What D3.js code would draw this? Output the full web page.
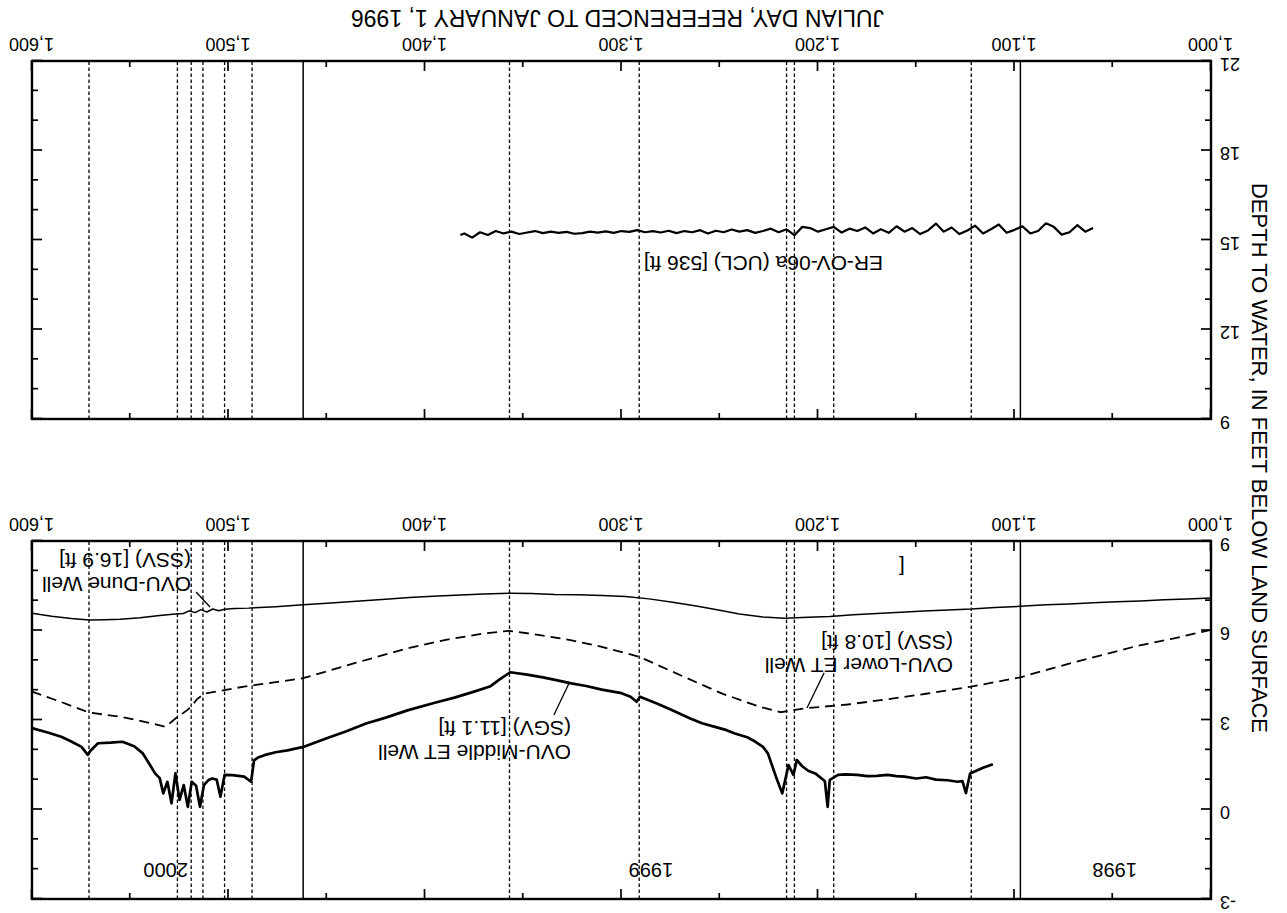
<!DOCTYPE html>
<html>
<head>
<meta charset="utf-8">
<script src="https://cdn.jsdelivr.net/npm/d3@7"></script>
<style>
  html, body { margin: 0; padding: 0; background: #fff; }
  svg { display: block; background: #fff; }
  text { font-family: "Liberation Sans", Arial, Helvetica, sans-serif; fill: #000; }
</style>
</head>
<body>
<svg id="chart" width="1287" height="913"></svg>
<script>
// ---- Julian day axis (referenced to January 1, 1996) ----
const xMajorTicks = [1000, 1100, 1200, 1300, 1400, 1500, 1600];
const xMinorTicks = [1050, 1150, 1250, 1350, 1450, 1550];

// Calendar-year boundaries (solid) and event dates (dashed)
const yearBoundaryDays = [1097, 1462];
const eventDays = [1122, 1192, 1212, 1216, 1291, 1357, 1488, 1502, 1513, 1519, 1526, 1571];
const yearLabels = ["1998", "1999", "2000"];
const yearLabelDays = [1049, 1285, 1532];

// ---- Upper panel: shallow wells, depth in feet ----
const upperMajorTicks = [-3, 0, 3, 6, 9];
const upperMinorTicks = [-2, -1, 1, 2, 4, 5, 7, 8];

// OVU-Dune Well (SSV) [16.9 ft]
const duneDays  = [1000, 1012, 1024, 1036, 1048, 1060, 1072, 1084, 1097, 1110, 1122, 1134, 1146, 1158, 1170, 1182, 1194, 1205, 1217, 1228, 1240, 1250, 1262, 1274, 1286, 1298, 1310, 1322, 1334, 1346, 1357, 1370, 1382, 1396, 1408, 1420, 1435, 1448, 1462, 1476, 1490, 1497, 1502, 1505, 1508, 1511, 1514, 1517, 1520, 1523, 1527, 1535, 1545, 1555, 1563, 1571, 1580, 1590, 1600];
const duneDepth = [7.09, 7.06, 7.03, 6.99, 6.96, 6.93, 6.89, 6.86, 6.81, 6.77, 6.72, 6.69, 6.65, 6.61, 6.57, 6.53, 6.47, 6.44, 6.41, 6.45, 6.55, 6.68, 6.82, 6.95, 7.06, 7.14, 7.17, 7.20, 7.21, 7.24, 7.25, 7.22, 7.19, 7.15, 7.11, 7.05, 6.98, 6.92, 6.86, 6.80, 6.75, 6.74, 6.71, 6.66, 6.72, 6.62, 6.70, 6.60, 6.66, 6.57, 6.55, 6.50, 6.43, 6.38, 6.36, 6.35, 6.40, 6.48, 6.58];

// OVU-Lower ET Well (SSV) [10.8 ft]
const lowerDays  = [1000, 1020, 1039, 1060, 1080, 1097, 1122, 1145, 1165, 1185, 1207, 1219, 1230, 1249, 1270, 1291, 1310, 1326, 1345, 1357, 1370, 1390, 1409, 1435, 1462, 1492, 1512, 1516, 1519, 1521, 1527, 1532, 1540, 1554, 1571, 1585, 1600];
const lowerDepth = [6.02, 5.72, 5.46, 5.10, 4.75, 4.43, 4.12, 3.88, 3.69, 3.52, 3.39, 3.26, 3.45, 3.89, 4.50, 5.12, 5.45, 5.68, 5.88, 5.99, 5.90, 5.68, 5.40, 4.92, 4.40, 4.12, 3.89, 3.70, 3.45, 3.33, 3.05, 2.77, 2.90, 3.10, 3.25, 3.60, 3.95];

// OVU-Middle ET Well (SGV) [11.1 ft]
const middleDays  = [1111, 1116, 1120, 1122.6, 1124.7, 1126.5, 1129, 1134, 1140, 1145, 1150, 1156, 1160, 1164.6, 1170, 1175, 1180, 1186, 1189.8, 1194, 1195.1, 1196.5, 1197.2, 1201.4, 1205, 1208, 1210.8, 1212.5, 1215, 1218.2, 1221.4, 1225.5, 1228, 1231.8, 1236, 1242.3, 1246.5, 1252, 1259, 1265, 1275, 1282, 1290.6, 1292.3, 1295.4, 1300, 1310, 1318, 1325.5, 1335, 1340, 1348, 1356.6, 1362, 1367, 1375, 1385, 1395, 1408.5, 1420, 1430, 1440, 1450, 1461.6, 1466, 1470, 1476, 1481.3, 1485, 1487, 1488.5, 1492, 1498, 1502, 1504.1, 1506, 1508.3, 1510, 1512.5, 1514.5, 1516.5, 1518.7, 1520.7, 1522.8, 1524.9, 1527, 1529, 1531.1, 1533.2, 1535, 1537.4, 1540, 1543.6, 1548, 1554, 1560, 1566.4, 1570.5, 1571.6, 1574.8, 1580, 1585.1, 1592, 1599.6];
const middleDepth = [1.52, 1.40, 1.28, 1.21, 0.55, 0.95, 0.93, 0.98, 1.00, 1.08, 1.04, 1.10, 1.12, 1.16, 1.13, 1.12, 1.16, 1.18, 1.16, 0.99, 0.09, 0.95, 0.99, 1.21, 1.30, 1.45, 1.66, 1.16, 1.49, 0.54, 1.10, 1.88, 2.10, 2.27, 2.42, 2.55, 2.66, 2.76, 2.89, 3.05, 3.35, 3.55, 3.78, 3.61, 3.78, 3.90, 4.02, 4.14, 4.23, 4.36, 4.43, 4.52, 4.60, 4.36, 4.12, 3.95, 3.75, 3.58, 3.33, 3.08, 2.88, 2.62, 2.39, 2.10, 2.04, 1.98, 1.92, 1.83, 1.74, 1.65, 0.93, 1.10, 1.15, 1.16, 0.43, 1.00, 1.04, 1.00, 0.82, 0.09, 0.80, 0.93, 0.09, 0.82, 0.32, 1.21, 0.21, 0.93, 0.54, 1.05, 1.21, 1.50, 1.88, 2.12, 2.27, 2.24, 2.22, 1.95, 1.83, 2.10, 2.28, 2.44, 2.58, 2.72];

// ---- Lower panel: deep well, depth in feet ----
const lowerPanelMajorTicks = [9, 12, 15, 18, 21];
const lowerPanelMinorTicks = [10, 11, 13, 14, 16, 17, 19, 20];

// ER-OV-06a (UCL) [536 ft]
const deepDays  = [1060, 1064, 1068, 1072, 1076, 1080, 1084, 1088, 1092, 1096, 1100, 1104, 1108, 1112, 1116, 1120, 1124, 1128, 1132, 1136, 1140, 1144, 1148, 1152, 1156, 1160, 1164, 1168, 1172, 1176, 1180, 1184, 1188, 1192, 1196, 1200, 1204, 1208, 1212, 1216, 1220, 1224, 1228, 1232, 1236, 1240, 1244, 1248, 1252, 1256, 1260, 1264, 1268, 1272, 1276, 1280, 1284, 1288, 1292, 1296, 1300, 1304, 1308, 1312, 1316, 1320, 1324, 1328, 1332, 1336, 1340, 1344, 1348, 1352, 1356, 1360, 1364, 1368, 1372, 1376, 1380, 1382];
const deepDepth = [15.40, 15.28, 15.50, 15.26, 15.18, 15.44, 15.56, 15.30, 15.22, 15.46, 15.34, 15.24, 15.52, 15.36, 15.22, 15.48, 15.32, 15.20, 15.42, 15.28, 15.55, 15.32, 15.20, 15.40, 15.28, 15.46, 15.24, 15.36, 15.22, 15.42, 15.30, 15.38, 15.25, 15.44, 15.36, 15.28, 15.40, 15.44, 15.16, 15.36, 15.26, 15.38, 15.30, 15.24, 15.33, 15.28, 15.35, 15.26, 15.31, 15.22, 15.33, 15.26, 15.30, 15.23, 15.31, 15.25, 15.30, 15.26, 15.33, 15.27, 15.30, 15.24, 15.29, 15.25, 15.28, 15.23, 15.21, 15.27, 15.24, 15.28, 15.23, 15.30, 15.25, 15.20, 15.28, 15.22, 15.30, 15.17, 15.26, 15.08, 15.22, 15.17];

// ---- Geometry of the figure (drawn in reading orientation, then turned over) ----
const W = 1287, H = 913;
const plotLeft = 76, plotRight = 1255;
const upperTop = 14, upperBottom = 372;
const lowerTop = 494, lowerBottom = 852;

const x = d3.scaleLinear().domain([1000, 1600]).range([plotLeft, plotRight]);
const yUpper = d3.scaleLinear().domain([-3, 9]).range([upperTop, upperBottom]);
const yLower = d3.scaleLinear().domain([9, 21]).range([lowerTop, lowerBottom]);

const svg = d3.select("#chart");
svg.append("rect").attr("width", W).attr("height", H).attr("fill", "#fff");

// The sheet is printed upside down.
const fig = svg.append("g").attr("transform", `rotate(180 ${W / 2} ${H / 2})`);

const FONT = '"Liberation Sans", Arial, Helvetica, sans-serif';
const TICK_FONT = 18;

function styleAxis(sel) {
  sel.attr("font-family", FONT).attr("font-size", TICK_FONT);
  sel.select(".domain").remove();
  sel.selectAll(".tick line").attr("stroke", "#000").attr("stroke-width", 1.7);
  sel.selectAll(".tick text").attr("fill", "#000");
}

function drawPanel(y, majorY, minorY) {
  const [top, bottom] = y.range();
  const g = fig.append("g");

  // event and year lines
  g.append("g").selectAll("line").data(eventDays).join("line")
    .attr("x1", d => x(d)).attr("x2", d => x(d))
    .attr("y1", top).attr("y2", bottom)
    .attr("stroke", "#000").attr("stroke-width", 1.3)
    .attr("stroke-dasharray", "3.5,2.5");
  g.append("g").selectAll("line").data(yearBoundaryDays).join("line")
    .attr("x1", d => x(d)).attr("x2", d => x(d))
    .attr("y1", top).attr("y2", bottom)
    .attr("stroke", "#000").attr("stroke-width", 1.5);

  // bottom edge: labelled major ticks + minor ticks
  g.append("g").attr("transform", `translate(0,${bottom})`)
    .call(d3.axisBottom(x).tickValues(xMajorTicks).tickSize(-10).tickPadding(10).tickFormat(d3.format(",")))
    .call(styleAxis);
  g.append("g").attr("transform", `translate(0,${bottom})`)
    .call(d3.axisBottom(x).tickValues(xMinorTicks).tickSize(-6).tickFormat(""))
    .call(styleAxis);
  // top edge ticks
  g.append("g").attr("transform", `translate(0,${top})`)
    .call(d3.axisTop(x).tickValues(xMajorTicks).tickSize(-10).tickFormat(""))
    .call(styleAxis);
  g.append("g").attr("transform", `translate(0,${top})`)
    .call(d3.axisTop(x).tickValues(xMinorTicks).tickSize(-6).tickFormat(""))
    .call(styleAxis);

  // left edge: labelled depth ticks
  g.append("g").attr("transform", `translate(${plotLeft},0)`)
    .call(d3.axisLeft(y).tickValues(majorY).tickSize(-10).tickPadding(9).tickFormat(d => String(d)))
    .call(styleAxis)
    .call(s => s.selectAll(".tick text").attr("y", -3));
  g.append("g").attr("transform", `translate(${plotLeft},0)`)
    .call(d3.axisLeft(y).tickValues(minorY).tickSize(-6).tickFormat(""))
    .call(styleAxis);
  // right edge ticks
  g.append("g").attr("transform", `translate(${plotRight},0)`)
    .call(d3.axisRight(y).tickValues(majorY).tickSize(-10).tickFormat(""))
    .call(styleAxis);
  g.append("g").attr("transform", `translate(${plotRight},0)`)
    .call(d3.axisRight(y).tickValues(minorY).tickSize(-6).tickFormat(""))
    .call(styleAxis);

  return g;
}

const upper = drawPanel(yUpper, upperMajorTicks, upperMinorTicks);
const lower = drawPanel(yLower, lowerPanelMajorTicks, lowerPanelMinorTicks);

// ---- hydrographs ----
function series(days, depth) { return d3.zip(days, depth); }

const lineUpper = d3.line().x(d => x(d[0])).y(d => yUpper(d[1]));
const lineLower = d3.line().x(d => x(d[0])).y(d => yLower(d[1]));

upper.append("path").datum(series(duneDays, duneDepth))
  .attr("d", lineUpper).attr("fill", "none").attr("stroke", "#000")
  .attr("stroke-width", 1.5).attr("stroke-linejoin", "round");
upper.append("path").datum(series(lowerDays, lowerDepth))
  .attr("d", lineUpper).attr("fill", "none").attr("stroke", "#000")
  .attr("stroke-width", 1.8).attr("stroke-dasharray", "10,6");
upper.append("path").datum(series(middleDays, middleDepth))
  .attr("d", lineUpper).attr("fill", "none").attr("stroke", "#000")
  .attr("stroke-width", 2.7).attr("stroke-linejoin", "round");
lower.append("path").datum(series(deepDays, deepDepth))
  .attr("d", lineLower).attr("fill", "none").attr("stroke", "#000")
  .attr("stroke-width", 2.2).attr("stroke-linejoin", "round");

// ---- well labels with leader lines (positions in day / depth units) ----
const wellLabels = [
  { lines: ["OVU-Middle ET Well", "(SGV) [11.1 ft]"], day: 1325.7, depth: 1.93, from: [1334.4, 3.17], to: [1326.7, 4.23] },
  { lines: ["OVU-Lower ET Well", "(SSV) [10.8 ft]"],  day: 1131.3, depth: 4.84, from: [1196.9, 4.58], to: [1205.6, 3.40] },
  { lines: ["OVU-Dune Well", "(SSV) [16.9 ft]"],      day: 1519.1, depth: 7.56, from: [1516.5, 7.29], to: [1509.4, 6.79] }
];
const lineGapFt = 0.78;

wellLabels.forEach(lb => {
  lb.lines.forEach((t, i) => {
    upper.append("text")
      .attr("x", x(lb.day)).attr("y", yUpper(lb.depth + i * lineGapFt))
      .attr("dy", "0.35em").attr("font-size", 21).attr("font-family", FONT)
      .text(t);
  });
  upper.append("line")
    .attr("x1", x(lb.from[0])).attr("y1", yUpper(lb.from[1]))
    .attr("x2", x(lb.to[0])).attr("y2", yUpper(lb.to[1]))
    .attr("stroke", "#000").attr("stroke-width", 1.3);
});

upper.append("text")
  .attr("x", x(1157.3)).attr("y", yUpper(8.13)).attr("dy", "0.35em")
  .attr("text-anchor", "middle").attr("font-size", 21).attr("font-family", FONT)
  .text("[");

lower.append("text")
  .attr("x", x(1166.9)).attr("y", yLower(14.23)).attr("dy", "0.35em")
  .attr("font-size", 21).attr("font-family", FONT)
  .text("ER-OV-06a (UCL) [536 ft]");

// year names in the upper panel
upper.append("g").selectAll("text").data(yearLabels).join("text")
  .attr("x", (d, i) => x(yearLabelDays[i])).attr("y", yUpper(-2.03)).attr("dy", "0.35em")
  .attr("text-anchor", "middle").attr("font-size", 20).attr("font-family", FONT)
  .text(d => d);

// frames on top of everything
[[upperTop, upperBottom], [lowerTop, lowerBottom]].forEach(([t, b]) => {
  fig.append("rect")
    .attr("x", plotLeft).attr("y", t)
    .attr("width", plotRight - plotLeft).attr("height", b - t)
    .attr("fill", "none").attr("stroke", "#000").attr("stroke-width", 2.4);
});

// axis titles
fig.append("text")
  .attr("transform", `translate(27,455) rotate(-90)`)
  .attr("text-anchor", "middle").attr("dy", "0.35em")
  .attr("font-size", 22).attr("font-family", FONT)
  .text("DEPTH TO WATER, IN FEET BELOW LAND SURFACE");

fig.append("text")
  .attr("x", (plotLeft + plotRight) / 2 + 4).attr("y", 895).attr("dy", "0.35em")
  .attr("text-anchor", "middle").attr("font-size", 23).attr("font-family", FONT)
  .text("JULIAN DAY, REFERENCED TO JANUARY 1, 1996");
</script>
</body>
</html>
